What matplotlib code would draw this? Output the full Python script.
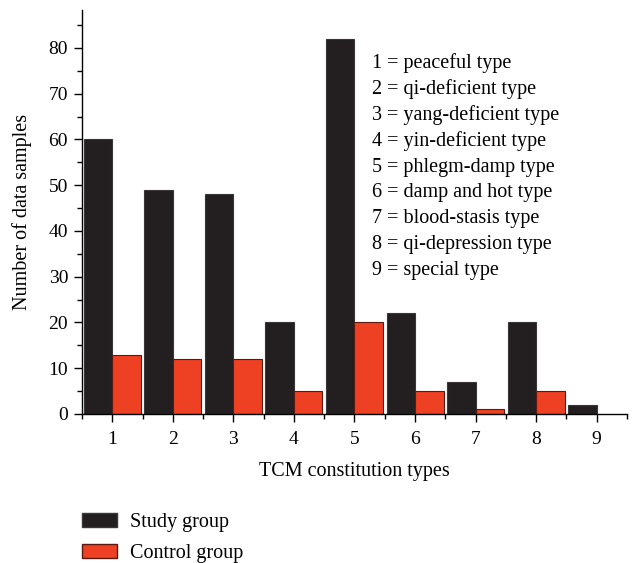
import matplotlib
matplotlib.use("Agg")
import matplotlib.pyplot as plt
import numpy as np
from matplotlib.ticker import MultipleLocator
from matplotlib.patches import Patch

categories = [1, 2, 3, 4, 5, 6, 7, 8, 9]
study = [60, 49, 48, 20, 82, 22, 7, 20, 2]
control = [13, 12, 12, 5, 20, 5, 1, 5, 0]
type_labels = ["peaceful type", "qi-deficient type", "yang-deficient type",
               "yin-deficient type", "phlegm-damp type", "damp and hot type",
               "blood-stasis type", "qi-depression type", "special type"]

plt.rcParams['font.family'] = ['Liberation Serif', 'DejaVu Serif']
fs = 14.5

fig = plt.figure(figsize=(6.33, 5.63), dpi=100)
ax = fig.add_axes([82/633, 1-414/563, (627-82)/633, (414-10)/563])

x = np.array(categories, dtype=float)
w = 0.47
black = '#231f20'
red = '#ee4123'
ax.bar(x, study, width=-w, align='edge', color=black, edgecolor='#3a3637', linewidth=0.8)
ax.bar(x, [c if c > 0 else np.nan for c in control], width=w, align='edge', color=red,
       edgecolor='#5a1a10', linewidth=0.8)

ax.set_xlim(0.5, 9.5)
ax.set_ylim(0, 88.3)
ax.spines['top'].set_visible(False)
ax.spines['right'].set_visible(False)
ax.spines['left'].set_linewidth(1.0)
ax.spines['bottom'].set_linewidth(1.0)
ax.xaxis.set_major_locator(MultipleLocator(1))
ax.xaxis.set_minor_locator(MultipleLocator(0.5))
ax.yaxis.set_major_locator(MultipleLocator(10))
ax.yaxis.set_minor_locator(MultipleLocator(5))
ax.tick_params(which='major', direction='out', length=6, width=1.0, labelsize=14)
ax.tick_params(axis='x', which='major', pad=6)
ax.tick_params(axis='y', which='major', pad=4)
ax.tick_params(which='minor', direction='out', length=3.5, width=1.0)
ax.set_xticks(categories)
ax.set_xticklabels([str(c) for c in categories])

ax.set_xlabel("TCM constitution types", fontsize=fs, labelpad=10)
ax.set_ylabel("Number of data samples", fontsize=fs, labelpad=12)

for i, (c, lab) in enumerate(zip(categories, type_labels)):
    fig.text(372/633, 1 - (63 + 26 * i)/563, f"{c} = {lab}", fontsize=fs,
             ha='left', va='center')

handles = [Patch(facecolor=black, edgecolor='#3a3637', label='Study group'),
           Patch(facecolor=red, edgecolor='#5a1a10', label='Control group')]
fig.legend(handles=handles, loc='upper left', bbox_to_anchor=(82/633, 1-513/563),
           frameon=False, fontsize=fs, handlelength=1.75, handleheight=0.7,
           handletextpad=0.65, labelspacing=0.6, borderpad=0, borderaxespad=0)

fig.savefig("out.png", dpi=100)
